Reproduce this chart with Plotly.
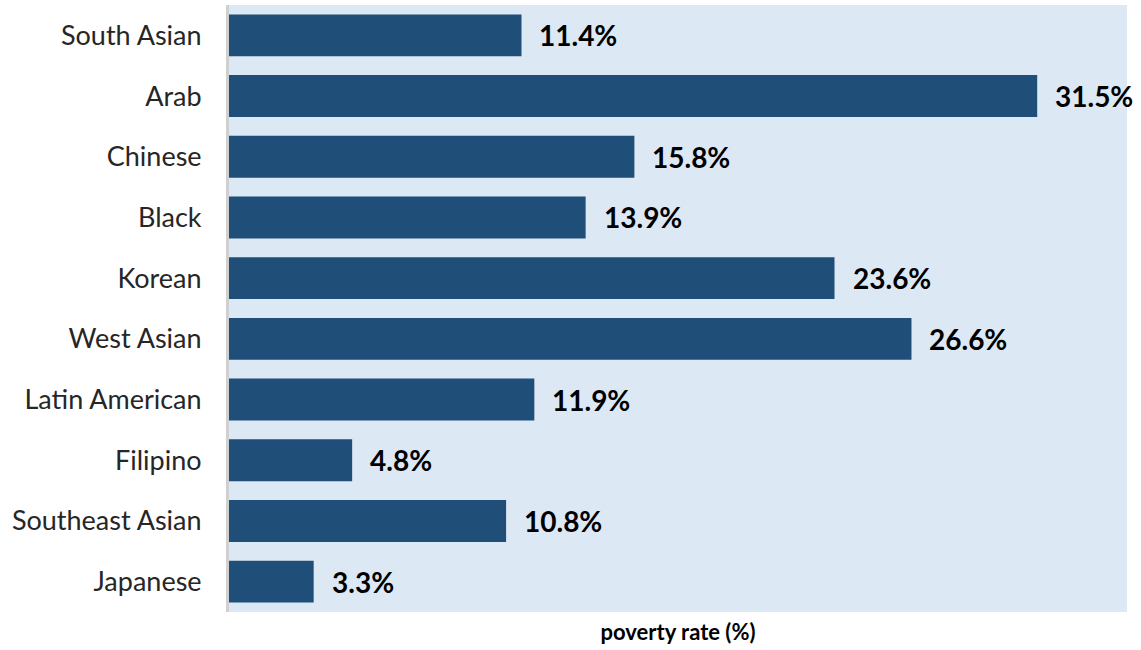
import plotly.graph_objects as go

categories = ["South Asian", "Arab", "Chinese", "Black", "Korean", "West Asian",
              "Latin American", "Filipino", "Southeast Asian", "Japanese"]
values = [11.4, 31.5, 15.8, 13.9, 23.6, 26.6, 11.9, 4.8, 10.8, 3.3]
value_labels = [f"{v:.1f}%" for v in values]

fig = go.Figure()
fig.add_trace(go.Bar(
    y=categories, x=values, orientation="h",
    marker=dict(color="#1F4E79", line=dict(width=0)),
    width=0.69, hoverinfo="skip",
))
for c, v, t in zip(categories, values, value_labels):
    fig.add_annotation(x=v, y=c, text=f"<b>{t}</b>", showarrow=False,
                       xanchor="left", xshift=16,
                       font=dict(family="Lato", size=28, color="#000000"))

fig.update_layout(
    width=1141, height=650,
    margin=dict(l=229, r=14, t=5, b=38),
    plot_bgcolor="#DDE8F5", paper_bgcolor="#FFFFFF",
    showlegend=False,
    font=dict(family="Lato", color="#262626"),
)
fig.update_xaxes(range=[0, 35], showticklabels=False, showgrid=False, zeroline=False,
                 ticks="", title=dict(text="<b>poverty rate (%)</b>", standoff=12,
                                      font=dict(family="Lato", size=22, color="#000000")))
fig.update_yaxes(autorange="reversed", showgrid=False, zeroline=False,
                 showline=True, linecolor="#D0D0D0", linewidth=3,
                 ticks="outside", ticklen=19, tickcolor="rgba(0,0,0,0)",
                 tickfont=dict(family="Lato", size=27, color="#262626"))

fig.write_html("out.html")
